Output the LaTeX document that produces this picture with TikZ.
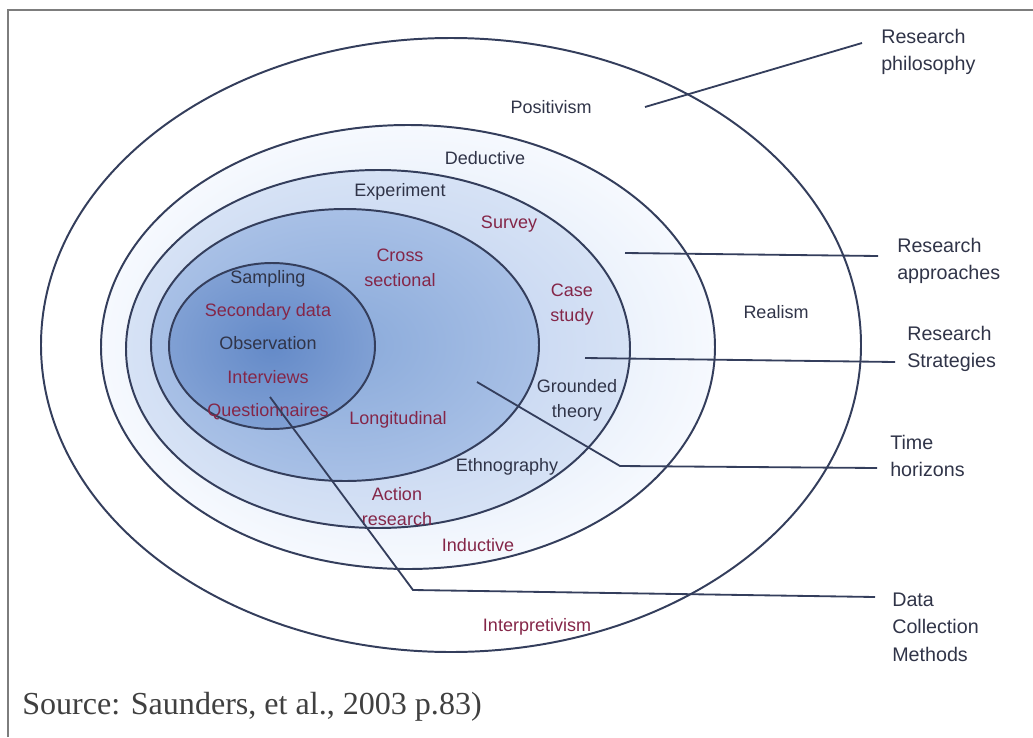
\documentclass[tikz,border=0pt]{standalone}
\usepackage{fontspec}
\setmainfont{Liberation Serif}
\newfontfamily\labelfont{Liberation Sans}
\usepackage{xcolor}
\usepackage{tikz}
\usetikzlibrary{positioning,calc}
\definecolor{RingLine}{RGB}{52,62,92}
\definecolor{DarkText}{RGB}{48,52,72}
\definecolor{RedText}{RGB}{132,38,72}
\definecolor{Frame}{RGB}{125,125,125}
\definecolor{BandA}{RGB}{212,226,246}
\definecolor{BandAo}{RGB}{246,249,254}
\definecolor{BandB}{RGB}{188,206,238}
\definecolor{BandBo}{RGB}{214,226,245}
\definecolor{BandC}{RGB}{138,170,218}
\definecolor{BandCo}{RGB}{168,192,230}
\definecolor{BandD}{RGB}{100,138,200}
\definecolor{BandDo}{RGB}{128,160,212}

\begin{document}
\begin{tikzpicture}[x=0.025cm,y=-0.025cm,
   ring/.style={draw=RingLine,line width=1.4pt},
   leader/.style={draw=RingLine,line width=1.3pt},
   dk/.style={inner sep=0pt,align=center,text=DarkText,
     font=\labelfont\fontsize{12.8}{17.7}\selectfont},
   rd/.style={dk,text=RedText},
   sidelabel/.style={inner sep=0pt,anchor=west,align=left,text=DarkText,
     font=\labelfont\fontsize{14}{19.6}\selectfont}]
  \useasboundingbox (0,0) rectangle (1033,737);
  \draw[Frame,line width=1.2pt] (8,737) -- (8,10) -- (1033,10);

  % nested layers, outside in
  \draw[ring] (451,345) ellipse [x radius=410, y radius=307];
  \shade[inner color=BandA,outer color=BandAo] (408,347) ellipse [x radius=307, y radius=222];
  \draw[ring] (408,347) ellipse [x radius=307, y radius=222];
  \shade[inner color=BandB,outer color=BandBo] (378,349) ellipse [x radius=252, y radius=179];
  \draw[ring] (378,349) ellipse [x radius=252, y radius=179];
  \shade[inner color=BandC,outer color=BandCo] (345,345) ellipse [x radius=194, y radius=136];
  \draw[ring] (345,345) ellipse [x radius=194, y radius=136];
  \shade[inner color=BandD,outer color=BandDo] (272,346) ellipse [x radius=103, y radius=83];
  \draw[ring] (272,346) ellipse [x radius=103, y radius=83];

  % layer texts
  \node[dk] (posit) at (551,107) {Positivism};
  \node[dk] (realism) at (776,312) {Realism};
  \node[rd] (interp) at (537,627) {Interpretivism};
  \node[dk] (deduct) at (485,158) {Deductive};
  \node[rd] (induct) at (478,545) {Inductive};
  \node[dk] (exper) at (400,192) {Experiment};
  \node[rd] (survey) at (509,224) {Survey};
  \node[rd] (casest) at (572,305) {Case\\study};
  \node[dk] (ground) at (577,400) {Grounded\\theory};
  \node[dk] (ethno) at (507,467) {Ethnography};
  \node[rd] (action) at (397,507) {Action\\research};
  \node[rd] (cross) at (400,268) {Cross\\sectional};
  \node[rd] (longit) at (398,420) {Longitudinal};
  \node[dk,font=\labelfont\fontsize{12.8}{23.7}\selectfont] (methods) at (268,345)
     {Sampling\\\textcolor{RedText}{Secondary data}\\Observation\\
      \textcolor{RedText}{Interviews}\\\textcolor{RedText}{Questionnaires}};

  % side labels and their leaders
  \node[sidelabel] (lblPhil) at (881,52) {Research\\philosophy};
  \node[sidelabel] (lblAppr) at (897,261) {Research\\approaches};
  \node[sidelabel] (lblStrat) at (907,349) {Research\\Strategies};
  \node[sidelabel] (lblTime) at (890,456) {Time\\horizons};
  \node[sidelabel] (lblData) at (892,627) {Data\\Collection\\Methods};
  \coordinate (philA) at (645,107);
  \coordinate (philB) at (862,43);
  \coordinate (apprA) at (625,253);
  \coordinate (apprB) at (878,256);
  \coordinate (stratA) at (585,358);
  \coordinate (stratB) at (895,362);
  \coordinate (timeA) at (477,382);
  \coordinate (timeK) at (620,466);
  \coordinate (timeB) at (877,468);
  \coordinate (dataA) at (270,397);
  \coordinate (dataK) at (413,590);
  \coordinate (dataB) at (875,597);
  \draw[leader] (philA) -- (philB);
  \draw[leader] (apprA) -- (apprB);
  \draw[leader] (stratA) -- (stratB);
  \draw[leader] (timeA) -- (timeK) -- (timeB);
  \draw[leader] (dataA) -- (dataK) -- (dataB);

  \node[anchor=west,inner sep=0pt,text=black!75,font=\fontsize{22.8}{26}\selectfont]
     (source) at (22,707) {Source: Saunders, et al., 2003 p.83)};
\end{tikzpicture}
\end{document}
